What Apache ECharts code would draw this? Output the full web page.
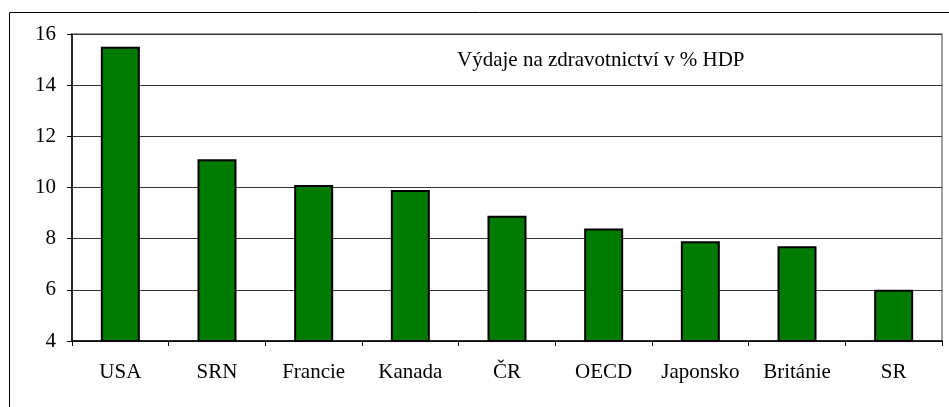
<!DOCTYPE html>
<html>
<head>
<meta charset="utf-8">
<script src="https://cdn.jsdelivr.net/npm/echarts@6/dist/echarts.min.js"></script>
<style>
  html, body { margin: 0; padding: 0; background: #fff; }
  #chart { width: 949px; height: 407px; }
</style>
</head>
<body>
<div id="chart"></div>
<script>
const countries = ['USA', 'SRN', 'Francie', 'Kanada', 'ČR', 'OECD', 'Japonsko', 'Británie', 'SR']
const spending = [15.5, 11.1, 10.1, 9.9, 8.9, 8.4, 7.9, 7.7, 6.0]
const chartTitle = 'Výdaje na zdravotnictví v % HDP'

const serif = 'Liberation Serif'

const chart = echarts.init(document.getElementById('chart'))
chart.setOption({
  animation: false,
  title: {
    text: chartTitle,
    left: 452,
    top: 45,
    textStyle: { fontFamily: serif, fontSize: 21, fontWeight: 'normal', color: '#000' }
  },
  graphic: [{
    type: 'rect',
    shape: { x: 9.5, y: 12.5, width: 1000, height: 500 },
    style: { fill: 'none', stroke: '#000', lineWidth: 1 },
    z: -1
  }],
  grid: {
    left: 72, right: 7, top: 34, bottom: 66,
    show: true,
    borderColor: '#808080',
    borderWidth: 1.5,
    backgroundColor: '#fff'
  },
  xAxis: {
    type: 'category',
    data: countries,
    axisLine: { lineStyle: { color: '#000', width: 1.5 } },
    axisTick: { show: true, length: 5, lineStyle: { color: '#000' } },
    axisLabel: { interval: 0, margin: 21, fontFamily: serif, fontSize: 21, color: '#000' }
  },
  yAxis: {
    type: 'value',
    min: 4,
    max: 16,
    interval: 2,
    axisLine: { show: true, lineStyle: { color: '#000', width: 1.5 } },
    axisTick: { show: true, length: 5, lineStyle: { color: '#000' } },
    axisLabel: { margin: 16, fontFamily: serif, fontSize: 21, color: '#000' },
    splitLine: { lineStyle: { color: '#333', width: 1 } }
  },
  series: [{
    type: 'bar',
    data: spending,
    barWidth: 39,
    itemStyle: { color: '#007a00', borderColor: '#000', borderWidth: 2 }
  }]
})
</script>
</body>
</html>
